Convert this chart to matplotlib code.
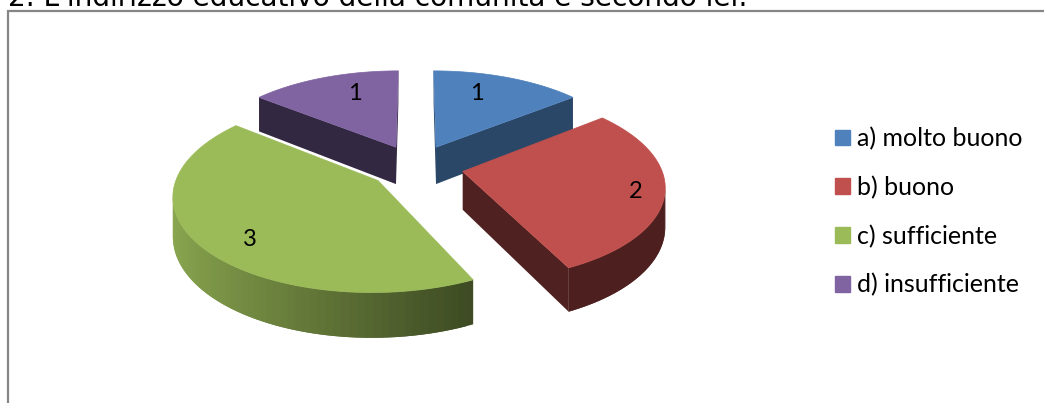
"""exploded 3d pie, drawn by hand because matplotlib pie is flat"""

import numpy as np
import matplotlib
matplotlib.use('Agg')
import matplotlib.pyplot as plt
from matplotlib.patches import Patch, Polygon

title = "2. L'indirizzo educativo della comunità è secondo lei:"
categories = ['a) molto buono', 'b) buono', 'c) sufficiente', 'd) insufficiente']
values = [1, 2, 3, 1]
colors = ['#4F81BD', '#C0504D', '#9BBB59', '#8064A2']

# look of the 3d view, in pixels
CX, CY = 416, 166.5
R, RY = 198, 92
PERSP = 0.14
DEPTH = 38
EXPLODE = 0.24
# where each number sits: part of the wedge angle, part of the radius
label_frac = [0.385, 0.51, 0.46, 0.615]
label_rad = [0.72, 0.86, 0.80, 0.72]


def project(x, y, drop=0.0):
    w = 1 + PERSP * y
    return CX + R * x / w, CY - RY * y / w + drop / w


def shade(col, f):
    rgb = np.array(matplotlib.colors.to_rgb(col))
    return tuple(rgb * f)


def arc_shade(theta):
    # light comes from the left, right side is dark
    s = np.sin(theta)
    if s > 0.43:
        return 0.40
    return 0.40 + (0.43 - s) / 1.43 * 0.50


fig = plt.figure(figsize=(10.44, 4.03), dpi=100)
ax = fig.add_axes([0, 0, 1, 1])
ax.set_xlim(0, 1044)
ax.set_ylim(403, 0)
ax.axis('off')

# frame of the chart, open on the right and at the bottom
ax.plot([8, 8, 1044], [403, 11, 11], color='#868686', lw=1.6, solid_joinstyle='miter')
ax.text(8, 6.5, title, fontsize=20.2, family='DejaVu Sans', color='black', va='baseline', ha='left')

total = sum(values)
edges = np.cumsum([0] + values) / total * 2 * np.pi

wedges = []
for i in range(len(values)):
    t0, t1 = edges[i], edges[i + 1]
    mid = (t0 + t1) / 2
    ox, oy = EXPLODE * np.sin(mid), EXPLODE * np.cos(mid)
    theta = np.linspace(t0, t1, 80)
    xs = np.concatenate([[ox], ox + np.sin(theta), [ox]])
    ys = np.concatenate([[oy], oy + np.cos(theta), [oy]])
    wedges.append((i, t0, t1, ox, oy, theta, xs, ys))

# back wedges first
for i, t0, t1, ox, oy, theta, xs, ys in [wedges[3], wedges[0], wedges[1], wedges[2]]:
    col = colors[i]
    flat = {0: 0.55, 1: 0.41, 2: 0.40, 3: 0.40}[i]
    n = len(xs)
    facing = [project(xs[j + 1], ys[j + 1])[0] < project(xs[j], ys[j])[0] for j in range(n - 1)]
    for j in range(n - 1):
        if not facing[j]:
            continue
        # run a step into the next strip so no seams show between them
        k = j + 2 if j < n - 2 and facing[j + 1] and j != 0 and j + 1 != n - 2 else j + 1
        ax0, ay0 = project(xs[j], ys[j])
        ax1, ay1 = project(xs[k], ys[k])
        bx0, by0 = project(xs[j], ys[j], DEPTH)
        bx1, by1 = project(xs[k], ys[k], DEPTH)
        if j == 0 or j == n - 2 or i == 0 or i == 3:
            c = shade(col, flat)
        else:
            c = shade(col, arc_shade(theta[j - 1]))
        ax.add_patch(Polygon([(ax0, ay0), (ax1, ay1), (bx1, by1), (bx0, by0)],
                             closed=True, facecolor=c, edgecolor='none'))
    top = [project(a, b) for a, b in zip(xs, ys)]
    ax.add_patch(Polygon(top, closed=True, facecolor=col, edgecolor=col, lw=0.5))

for i, t0, t1, ox, oy, theta, xs, ys in wedges:
    ang = t0 + (t1 - t0) * label_frac[i]
    lx, ly = project(ox + label_rad[i] * np.sin(ang), oy + label_rad[i] * np.cos(ang))
    ax.text(lx, ly, str(values[i]), fontsize=17, family='Lato', ha='center', va='center', color='black')

handles = [Patch(facecolor=c, edgecolor=c) for c in colors]
leg = ax.legend(handles, categories, loc='upper left', bbox_to_anchor=(835 / 1044, 1 - 127 / 403),
                frameon=False, prop={'family': 'Lato', 'size': 18}, handlelength=0.6, handleheight=0.6,
                handletextpad=0.28, labelspacing=1.02, borderaxespad=0, borderpad=0)

fig.savefig('out.png', dpi=100)
